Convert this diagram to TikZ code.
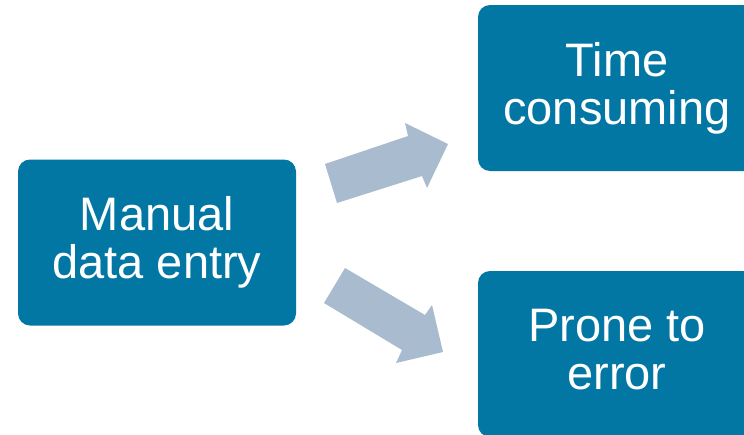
\documentclass[tikz,border=0pt]{standalone}
\usepackage{fontspec}
\setmainfont{Liberation Sans}
\definecolor{boxblue}{HTML}{0277A4}
\definecolor{arrowgrey}{HTML}{A9BCCF}
\tikzset{
  stepbox/.style={fill=boxblue, rounded corners=12pt, inner sep=0pt,
    minimum width=278pt, minimum height=166pt, text=white, align=center,
    font=\fontsize{47}{48}\selectfont},
  blockarrow/.style={fill=arrowgrey, draw=none}
}
\begin{document}
\begin{tikzpicture}[x=1pt,y=-1pt]
\clip (0,0) rectangle (744,434);
\fill[white] (0,0) rectangle (744,434);
\node[stepbox] (manual) at (157,242.5) {Manual\\data entry};
\node[stepbox] (time) at (617,88) {Time\\consuming};
\node[stepbox] (prone) at (617,354) {Prone to\\error\vphantom{g}};
\fill[blockarrow] (325,164) -- (408,136) -- (405,123) -- (448,144) -- (427,188) -- (422,176) -- (337,203) -- cycle;
\fill[blockarrow] (345,268) -- (425,315) -- (432,305) -- (443,352) -- (396,363) -- (402,350) -- (324,303) -- cycle;
\end{tikzpicture}
\end{document}
